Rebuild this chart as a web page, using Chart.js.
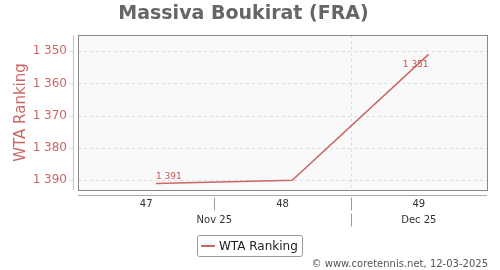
<!DOCTYPE html>
<html><head><meta charset="utf-8">
<script src="https://cdn.jsdelivr.net/npm/chart.js@4/dist/chart.umd.min.js"></script>
<style>html,body{margin:0;padding:0;background:#fff}canvas{display:block}</style>
</head><body>
<canvas id="c" width="500" height="270"></canvas>
<script>
const titleText = 'Massiva Boukirat (FRA)';
const seriesName = 'WTA Ranking';
const pointDates = ['2025-11-21', '2025-11-28', '2025-12-05'];
const rankings = [1391, 1390, 1351];
const weekLabels = ['47', '48', '49'];
const weekStarts = ['2025-11-17', '2025-11-24', '2025-12-01'];
const monthLabels = ['Nov 25', 'Dec 25'];
const monthStarts = ['2025-11-01', '2025-12-01'];
const axisStart = '2025-11-17';
const axisEnd = '2025-12-08';
const yTicks = [1350, 1360, 1370, 1380, 1390];
const yMin = 1345, yMax = 1393;
const credit = '\u00A9 www.coretennis.net, 12-03-2025';

const RED = '#cc6666';
const DAY = 86400000;
const t0 = Date.parse(axisStart + 'T00:00:00Z');
const dayOf = d => (Date.parse(d + 'T00:00:00Z') - t0) / DAY;
const xMin = 0, xMax = dayOf(axisEnd);
const fmt = v => String(v).replace(/\B(?=(\d{3})+(?!\d))/g, ' ');

const weekCenters = weekStarts.map(d => dayOf(d) + 3.5);
const weekBounds = weekStarts.map(dayOf).filter(v => v > xMin && v < xMax);
const monthBounds = monthStarts.map(dayOf).filter(v => v > xMin && v < xMax);
const monthCenters = monthStarts.map((d, i) => {
  const a = Math.max(dayOf(d), xMin);
  const b = i + 1 < monthStarts.length ? Math.min(dayOf(monthStarts[i + 1]), xMax) : xMax;
  return (a + b) / 2;
});

Chart.defaults.font.family = 'DejaVu Sans';

const deco = {
  id: 'deco',
  beforeDatasetsDraw(chart) {
    const {ctx, chartArea: a, scales} = chart;
    ctx.save();
    ctx.fillStyle = '#f9f9f9';
    ctx.fillRect(a.left, a.top, a.right - a.left, a.bottom - a.top);
    ctx.strokeStyle = '#dcdcdc';
    ctx.lineWidth = 1;
    ctx.setLineDash([3, 3]);
    yTicks.forEach(v => {
      const y = Math.round(scales.y.getPixelForValue(v)) + 0.5;
      ctx.beginPath(); ctx.moveTo(a.left, y); ctx.lineTo(a.right, y); ctx.stroke();
    });
    monthBounds.forEach(v => {
      const x = Math.round(scales.x.getPixelForValue(v)) + 0.5;
      ctx.beginPath(); ctx.moveTo(x, a.top); ctx.lineTo(x, a.bottom); ctx.stroke();
    });
    ctx.restore();
  },
  afterDatasetsDraw(chart) {
    const {ctx, chartArea: a, scales} = chart;
    ctx.save();
    // frame
    ctx.strokeStyle = '#888';
    ctx.lineWidth = 1;
    ctx.strokeRect(Math.round(a.left) + 0.5, Math.round(a.top) + 0.5, Math.round(a.right - a.left), Math.round(a.bottom - a.top));
    // y axis line
    const yx = Math.round(a.left) - 5 + 0.5;
    ctx.strokeStyle = 'rgba(204,102,102,0.5)';
    ctx.beginPath(); ctx.moveTo(yx, a.top); ctx.lineTo(yx, a.bottom); ctx.stroke();
    ctx.strokeStyle = '#ddd';
    yTicks.forEach(v => {
      const y = Math.round(scales.y.getPixelForValue(v)) + 0.5;
      ctx.beginPath(); ctx.moveTo(yx - 4, y); ctx.lineTo(yx, y); ctx.stroke();
    });
    // x axis line
    const xy = Math.round(a.bottom) + 5 + 0.5;
    ctx.strokeStyle = '#aaa';
    ctx.beginPath(); ctx.moveTo(a.left, xy); ctx.lineTo(a.right, xy); ctx.stroke();
    ctx.strokeStyle = '#999';
    weekBounds.forEach(v => {
      const x = Math.round(scales.x.getPixelForValue(v)) + 0.5;
      ctx.beginPath(); ctx.moveTo(x, xy + 2); ctx.lineTo(x, xy + 15); ctx.stroke();
    });
    monthBounds.forEach(v => {
      const x = Math.round(scales.x.getPixelForValue(v)) + 0.5;
      ctx.beginPath(); ctx.moveTo(x, xy + 18); ctx.lineTo(x, xy + 31); ctx.stroke();
    });
    // point labels (first and last)
    const meta = chart.getDatasetMeta(0);
    ctx.fillStyle = '#c85a5a';
    ctx.font = '9px "DejaVu Sans"';
    const n = meta.data.length;
    const p0 = meta.data[0], pl = meta.data[n - 1];
    ctx.textAlign = 'left'; ctx.textBaseline = 'alphabetic';
    ctx.fillText(fmt(rankings[0]), p0.x, p0.y - 4.5);
    ctx.textAlign = 'right';
    ctx.fillText(fmt(rankings[n - 1]), pl.x, pl.y + 12.3);
    // legend
    ctx.strokeStyle = '#999';
    ctx.lineWidth = 1;
    ctx.beginPath();
    if (ctx.roundRect) ctx.roundRect(197.5, 235.5, 105, 21, 2); else ctx.rect(197.5, 235.5, 105, 21);
    ctx.stroke();
    ctx.strokeStyle = RED; ctx.lineWidth = 2;
    ctx.beginPath(); ctx.moveTo(201, 246); ctx.lineTo(215, 246); ctx.stroke();
    ctx.fillStyle = '#222';
    ctx.font = '12px "DejaVu Sans"';
    ctx.textAlign = 'left'; ctx.textBaseline = 'middle';
    ctx.fillText(seriesName, 219, 246.5);
    // credit
    ctx.fillStyle = '#555';
    ctx.font = '10px "DejaVu Sans"';
    ctx.textAlign = 'right';
    ctx.fillText(credit, 488, 264);
    ctx.restore();
  }
};

new Chart(document.getElementById('c'), {
  type: 'line',
  data: {
    datasets: [{
      label: seriesName,
      data: pointDates.map((d, i) => ({x: dayOf(d), y: rankings[i]})),
      borderColor: RED,
      backgroundColor: RED,
      borderWidth: 1.5,
      pointRadius: 0,
      tension: 0
    }]
  },
  options: {
    responsive: false,
    animation: false,
    devicePixelRatio: 1,
    layout: {padding: {left: 0, right: 13, top: 0, bottom: 40}},
    plugins: {
      legend: {display: false},
      tooltip: {enabled: false},
      title: {
        display: true, text: titleText, color: '#666',
        font: {size: 19, weight: 'bold', family: 'DejaVu Sans'},
        padding: {top: 3, bottom: 9.2}
      }
    },
    scales: {
      x: {
        type: 'linear', position: 'bottom', min: xMin, max: xMax,
        afterBuildTicks: s => { s.ticks = weekCenters.map(v => ({value: v})); },
        afterFit: s => { s.height = 20; },
        ticks: {autoSkip: false, maxRotation: 0, color: '#333', font: {size: 10}, padding: 8,
          callback: (v, i) => weekLabels[i]},
        grid: {display: false, drawTicks: false},
        border: {display: false}
      },
      x2: {
        type: 'linear', position: 'bottom', axis: 'x', min: xMin, max: xMax,
        afterBuildTicks: s => { s.ticks = monthCenters.map(v => ({value: v})); },
        afterFit: s => { s.height = 20; },
        ticks: {autoSkip: false, maxRotation: 0, color: '#333', font: {size: 10}, padding: 4,
          callback: (v, i) => monthLabels[i]},
        grid: {display: false, drawTicks: false},
        border: {display: false}
      },
      y: {
        type: 'linear', reverse: true, min: yMin, max: yMax,
        afterBuildTicks: s => { s.ticks = yTicks.map(v => ({value: v})); },
        afterFit: s => { s.width = 78; },
        ticks: {color: RED, font: {size: 12}, padding: 11, callback: v => fmt(v)},
        grid: {display: false, drawTicks: false},
        border: {display: false},
        title: {display: true, text: seriesName, color: RED, font: {size: 15}, padding: {top: 12, bottom: 0}}
      }
    }
  },
  plugins: [deco]
});
</script>
</body></html>
